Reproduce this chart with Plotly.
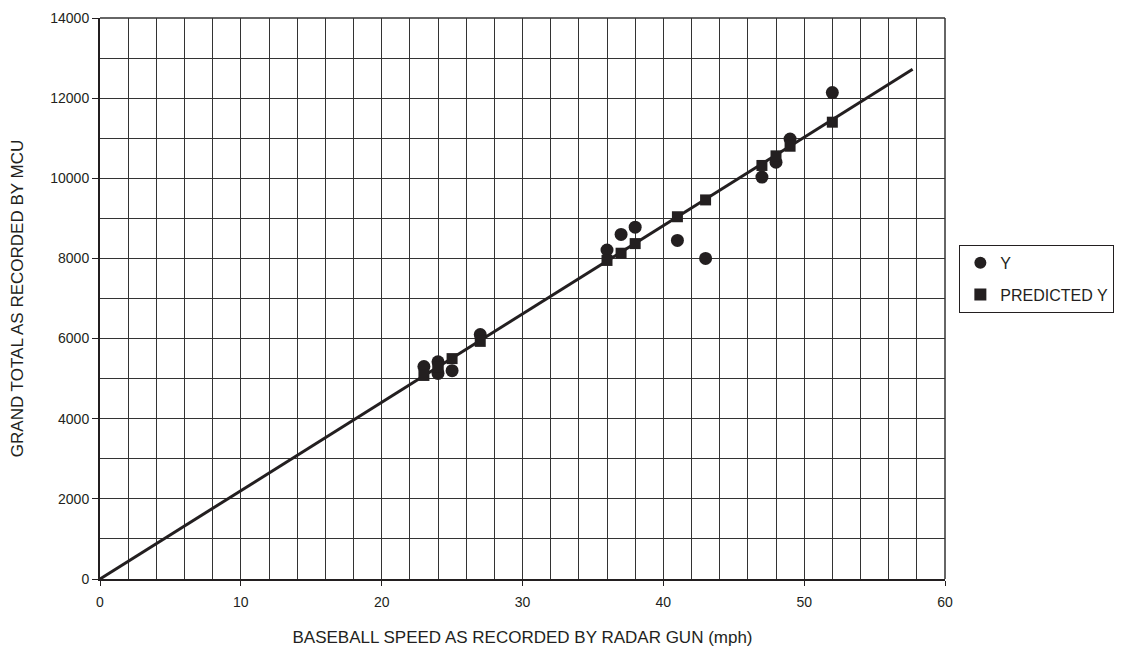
import plotly.graph_objects as go

speed = [23, 24, 24, 25, 27, 36, 37, 38, 41, 43, 47, 48, 49, 52]
y_actual = [5300, 5420, 5130, 5200, 6100, 8210, 8600, 8780, 8450, 8000, 10030, 10400, 10980, 12140]
y_pred = [5080, 5300, 5300, 5500, 5930, 7950, 8130, 8370, 9040, 9460, 10320, 10560, 10800, 11400]
fit_x = [0, 57.7]
fit_y = [0, 12720]

ink = "#231f20"
grid = "#333333"
font = "Liberation Sans, Arial, sans-serif"

fig = go.Figure()
fig.add_trace(go.Scatter(x=fit_x, y=fit_y, mode="lines", line=dict(color=ink, width=3),
                         showlegend=False, hoverinfo="skip"))
fig.add_trace(go.Scatter(x=speed, y=y_actual, mode="markers", name="Y", legendgroup="a",
                         marker=dict(symbol="circle", size=13, color=ink)))
fig.add_trace(go.Scatter(x=speed, y=y_pred, mode="markers", name="PREDICTED Y", legendgroup="b",
                         marker=dict(symbol="square", size=11, color=ink)))

# frame lines on top and right edges of the plot area
fig.add_shape(type="line", xref="paper", yref="paper", x0=0, x1=1, y0=1, y1=1,
              line=dict(color=grid, width=1.5), layer="below")
fig.add_shape(type="line", xref="paper", yref="paper", x0=1, x1=1, y0=0, y1=1,
              line=dict(color=grid, width=1.5), layer="below")

fig.update_layout(
    width=1116, height=646,
    margin=dict(l=92, r=177, t=10, b=75),
    paper_bgcolor="white", plot_bgcolor="white",
    font=dict(family=font, size=14, color=ink),
    legend=dict(x=1.017, y=0.535, xanchor="left", yanchor="middle",
                bordercolor=ink, borderwidth=1, font=dict(size=16),
                itemsizing="constant", tracegroupgap=8),
    xaxis=dict(range=[0, 60], dtick=10, tick0=0, showgrid=True, gridcolor=grid, gridwidth=1,
               minor=dict(dtick=2, showgrid=True, gridcolor=grid, gridwidth=1),
               showline=True, linecolor=ink, linewidth=2, ticks="outside", ticklen=5,
               tickcolor=ink, zeroline=False, automargin=False, tickformat="d",
               ticklabelstandoff=4, ticklabeloverflow="allow",
               title=dict(text="BASEBALL SPEED AS RECORDED BY RADAR GUN (mph)", standoff=22,
                          font=dict(size=17))),
    yaxis=dict(range=[0, 14000], dtick=2000, tick0=0, showgrid=True, gridcolor=grid, gridwidth=1,
               minor=dict(dtick=1000, showgrid=True, gridcolor=grid, gridwidth=1),
               showline=True, linecolor=ink, linewidth=2, ticks="outside", ticklen=6,
               tickcolor=ink, zeroline=False, automargin=False, tickformat="d",
               ticklabeloverflow="allow",
               title=dict(text="GRAND TOTAL AS RECORDED BY MCU", standoff=22,
                          font=dict(size=17))),
)

fig.write_html("out.html")
